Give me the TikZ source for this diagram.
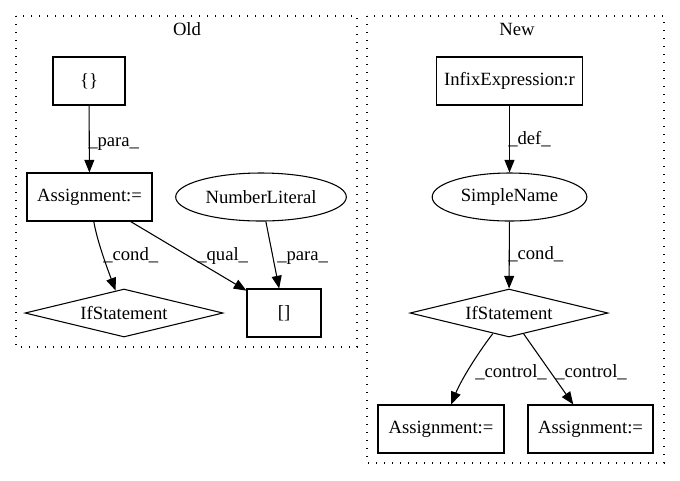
\documentclass[tikz,border=0pt]{standalone}
\usepackage{fontspec}
\setmainfont{Liberation Serif}
\usetikzlibrary{shapes.geometric,arrows.meta}
\begin{document}
\begin{tikzpicture}[x=0.75pt,y=-0.75pt,
  every node/.style={font=\fontsize{14}{16}\selectfont, inner sep=0pt},
  box/.style={draw, line width=0.8pt, minimum height=36pt},
  oval/.style={draw, ellipse, line width=0.8pt, minimum height=36pt},
  dia/.style={draw, diamond, aspect=4.1, line width=0.8pt, minimum width=148.5pt, minimum height=36pt},
  edge/.style={draw, line width=0.8pt, -{Triangle[length=9.5pt,width=7.5pt]}},
  lbl/.style={anchor=base west},
  cluster/.style={draw, line width=0.9pt, dash pattern=on 1.1pt off 4.9pt}
]
\useasboundingbox (0,0) rectangle (680,480);
% clusters
\path[cluster] (16,16) rectangle (357,347);
\path[cluster] (367,16) rectangle (664,463);
\node[anchor=base] (tOld) at (187,35) {Old};
\node[anchor=base] (tNew) at (517,35) {New};
% Old nodes
\node[box, minimum width=54pt] (brace) at (89,81) {\{\}};
\node[box, minimum width=93.75pt] (asgOld) at (89.5,197) {Assignment:=};
\node[oval, minimum width=128pt] (numlit) at (261,197) {NumberLiteral};
\node[dia] (ifOld) at (124,313) {IfStatement};
\node[box, minimum width=55.5pt] (brk) at (284,313) {[]};
% New nodes
\node[box, minimum width=110pt] (infix) at (509.5,81) {InfixExpression:r};
\node[oval, minimum width=116pt] (sname) at (509.5,197) {SimpleName};
\node[dia] (ifNew) at (509,313) {IfStatement};
\node[box, minimum width=94.5pt] (asgL) at (441,429) {Assignment:=};
\node[box, minimum width=93.75pt] (asgR) at (590.5,429) {Assignment:=};
% Old edges
\path[edge] (brace) -- (asgOld);
\path[edge] (asgOld) .. controls (97,240) and (106,265) .. (ifOld);
\path[edge] (asgOld) -- (brk);
\path[edge] (numlit) -- (brk);
% New edges
\path[edge] (infix) -- (sname);
\path[edge] (sname) -- (ifNew);
\path[edge] (ifNew) .. controls (480,350) and (462,378) .. (asgL);
\path[edge] (ifNew) -- (asgR);
% edge labels
\node[lbl] (l1) at (88,146) {\_para\_};
\node[lbl] (l2) at (103,260) {\_cond\_};
\node[lbl] (l3) at (197,260) {\_qual\_};
\node[lbl] (l4) at (277,260) {\_para\_};
\node[lbl] (l5) at (508,144) {\_def\_};
\node[lbl] (l6) at (508,259) {\_cond\_};
\node[lbl] (l7) at (475,377) {\_control\_};
\node[lbl] (l8) at (555,377) {\_control\_};
\end{tikzpicture}
\end{document}
